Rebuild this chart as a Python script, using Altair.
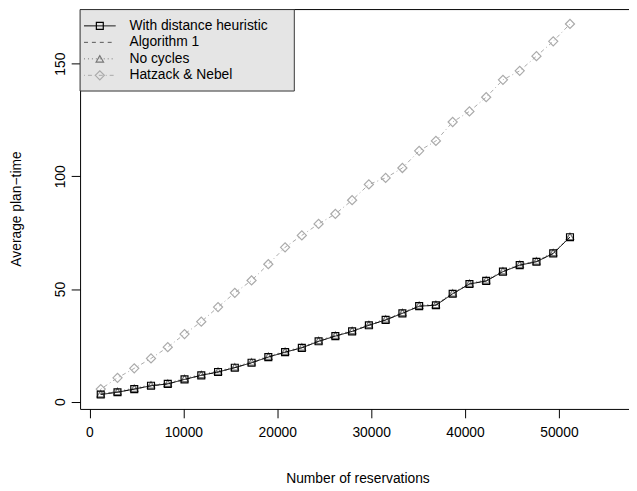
import altair as alt
import pandas as pd

series_names = ["With distance heuristic", "Algorithm 1", "No cycles", "Hatzack & Nebel"]

reservations = [1200, 2985, 4770, 6555, 8340, 10125, 11910, 13695, 15480, 17265,
                19050, 20835, 22620, 24405, 26190, 27975, 29760, 31545, 33330, 35115,
                36900, 38685, 40470, 42255, 44040, 45825, 47610, 49395, 51180]

with_distance = [3.2, 4.2, 5.6, 7.1, 7.9, 9.9, 11.7, 13.2, 15.1, 17.3,
                 19.8, 22.0, 23.9, 26.8, 29.1, 31.2, 33.9, 36.3, 39.2, 42.4,
                 42.8, 47.9, 52.2, 53.6, 57.7, 60.6, 62.1, 65.8, 73.0]
algorithm1 = [3.3, 4.3, 5.6, 7.0, 7.9, 9.8, 11.8, 13.1, 15.2, 17.2,
              19.9, 21.9, 24.0, 26.7, 29.2, 31.1, 34.0, 36.2, 39.3, 42.3,
              42.9, 47.8, 52.3, 53.5, 57.8, 60.5, 62.2, 65.7, 73.1]
no_cycles = [3.6, 4.6, 6.0, 7.5, 8.2, 10.3, 12.1, 13.6, 15.5, 17.7,
             20.2, 22.4, 24.3, 27.2, 29.5, 31.6, 34.3, 36.7, 39.6, 42.8,
             43.2, 48.3, 52.6, 54.0, 58.1, 61.0, 62.5, 66.2, 73.4]
hatzack = [5.6, 10.6, 14.8, 19.2, 24.2, 30.0, 35.5, 42.0, 48.3, 53.8,
           61.0, 68.5, 73.8, 78.9, 83.3, 89.4, 96.4, 99.3, 103.7, 111.3,
           115.7, 124.1, 128.8, 135.1, 142.8, 146.8, 153.3, 159.9, 167.6]

x_ticks = [0, 10000, 20000, 30000, 40000, 50000]
y_ticks = [0, 50, 100, 150]

colors = ["#000000", "#555555", "#777777", "#aaaaaa"]
dashes = [[1, 0], [4, 4], [1, 3], [1, 3, 4, 3]]
shapes = ["square", None, "triangle-up", "diamond"]
sizes = [49, 0, 56, 85]

FONT = "Liberation Sans"
W, H = 556, 405

values = [with_distance, algorithm1, no_cycles, hatzack]
frames = []
for name, vals in zip(series_names, values):
    frames.append(pd.DataFrame({"series": name, "x": reservations, "y": vals}))

x_enc = alt.X(
    "x:Q",
    scale=alt.Scale(domain=[-1000, 57466], nice=False, zero=False),
    axis=alt.Axis(
        values=x_ticks, format="d", title="Number of reservations", grid=False,
        domain=True, domainColor="black", domainWidth=1,
        ticks=True, tickColor="black", tickSize=9, tickWidth=1,
        labelFont=FONT, labelFontSize=14, labelColor="black", labelPadding=8,
        labelFlush=False, labelOverlap=False,
        titleFont=FONT, titleFontSize=14, titleFontWeight="normal", titleColor="black",
        titleX=281, titleY=75, titleAlign="center", titleBaseline="alphabetic",
    ),
)
y_enc = alt.Y(
    "y:Q",
    scale=alt.Scale(domain=[-3.2, 174.2], nice=False, zero=False),
    axis=alt.Axis(
        values=y_ticks, title="Average plan\u2212time", grid=False,
        domain=True, domainColor="black", domainWidth=1,
        ticks=True, tickColor="black", tickSize=9, tickWidth=1,
        labelFont=FONT, labelFontSize=14, labelColor="black", labelPadding=4,
        labelAngle=270, labelAlign="center", labelBaseline="bottom",
        labelFlush=False, labelOverlap=False,
        titleFont=FONT, titleFontSize=14, titleFontWeight="normal", titleColor="black",
        titleAngle=270, titleX=-64, titleY=202, titleAlign="center", titleBaseline="middle",
    ),
)

layers = []
for i in [3, 2, 1, 0]:
    df = frames[i]
    layers.append(
        alt.Chart(df).mark_line(color=colors[i], strokeDash=dashes[i], strokeWidth=1)
        .encode(x=x_enc, y=y_enc)
    )
    if shapes[i]:
        layers.append(
            alt.Chart(df).mark_point(shape=shapes[i], filled=False, color=colors[i],
                                     size=sizes[i], strokeWidth=1.2, opacity=1)
            .encode(x=x_enc, y=y_enc)
        )

one = pd.DataFrame({"a": [0]})

# frame top line
layers.append(
    alt.Chart(one).mark_rule(color="black", strokeWidth=1)
    .encode(x=alt.value(0), x2=alt.value(W), y=alt.value(0.5))
)

# legend
layers.append(
    alt.Chart(one).mark_rect(fill="#e5e5e5", stroke="#333333", strokeWidth=1)
    .encode(x=alt.value(0), x2=alt.value(217), y=alt.value(0.5), y2=alt.value(83))
)
for i, name in enumerate(series_names):
    ly = 17 + 16.7 * i
    layers.append(
        alt.Chart(one).mark_rule(color=colors[i], strokeDash=dashes[i], strokeWidth=1)
        .encode(x=alt.value(4), x2=alt.value(36), y=alt.value(ly))
    )
    if shapes[i]:
        layers.append(
            alt.Chart(one).mark_point(shape=shapes[i], filled=False, color=colors[i],
                                      size=sizes[i], strokeWidth=1.2, opacity=1)
            .encode(x=alt.value(20), y=alt.value(ly))
        )
    layers.append(
        alt.Chart(pd.DataFrame({"label": [name]})).mark_text(
            align="left", baseline="middle", font=FONT, fontSize=14, color="black")
        .encode(x=alt.value(50), y=alt.value(ly), text="label:N")
    )

chart = alt.layer(*layers).properties(
    width=W, height=H,
    autosize=alt.AutoSizeParams(type="none"),
    padding={"left": 73, "top": -2, "right": 0, "bottom": 78},
).configure_view(stroke=None)

chart.save("out.html", embed_options={"renderer": "svg", "actions": False})
